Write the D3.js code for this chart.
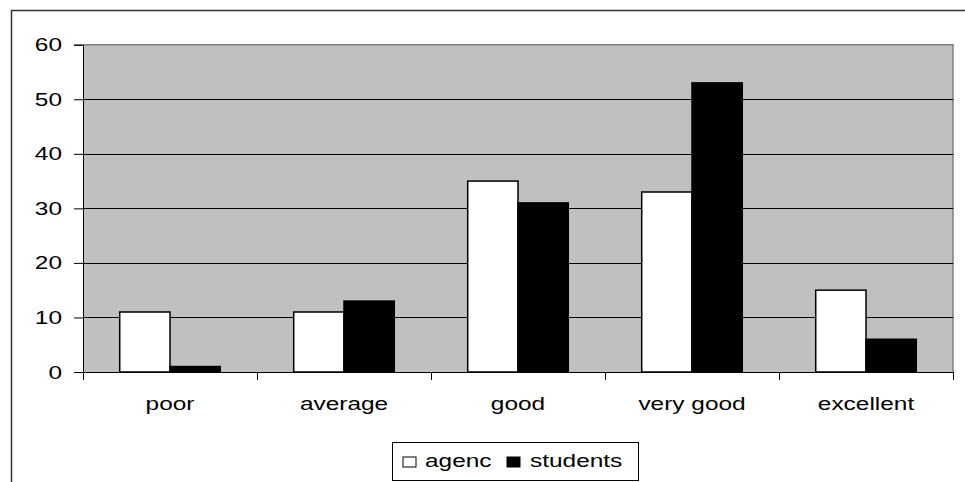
<!DOCTYPE html>
<html>
<head>
<meta charset="utf-8">
<script src="https://cdn.jsdelivr.net/npm/d3@7/dist/d3.min.js"></script>
<style>
  html, body { margin: 0; padding: 0; background: #fff; }
  svg { display: block; }
  text { font-family: "Liberation Sans", Arial, sans-serif; fill: #000; }
</style>
</head>
<body>
<svg id="chart" width="965" height="482"></svg>
<script>
// Ratings by category for the two respondent groups
const categories = ["poor", "average", "good", "very good", "excellent"];
const seriesNames = ["agenc", "students"];
const agencValues = [11, 11, 35, 33, 15];
const studentsValues = [1, 13, 31, 53, 6];
const yTicks = [0, 10, 20, 30, 40, 50, 60];
const seriesColors = ["#ffffff", "#000000"];

const svg = d3.select("#chart");
const W = 965, H = 482;
const plot = { left: 83, top: 44.7, right: 953, bottom: 372 };
const FONT = 18.5, STRETCH = 1.32;

// Text drawn with a horizontally widened face
function label(sel, x, y, anchor, str) {
  return sel.append("text")
    .attr("transform", `translate(${x},${y}) scale(${STRETCH},1)`)
    .attr("text-anchor", anchor)
    .attr("font-size", FONT)
    .text(str);
}

// Outer chart frame
svg.append("path")
  .attr("d", `M11.5,${H} L11.5,10.5 L${W},10.5`)
  .attr("fill", "none").attr("stroke", "#333").attr("stroke-width", 1.5);

const x = d3.scaleBand().domain(categories).range([plot.left, plot.right]);
const xs = d3.scaleBand().domain(seriesNames).range([0, x.bandwidth()]).paddingInner(0).paddingOuter(0.73);
const y = d3.scaleLinear().domain([0, 60]).range([plot.bottom, plot.top]);

// Plot background
svg.append("rect")
  .attr("x", plot.left).attr("y", plot.top)
  .attr("width", plot.right - plot.left).attr("height", plot.bottom - plot.top)
  .attr("fill", "#c0c0c0");
svg.append("path")
  .attr("d", `M${plot.left},${plot.top} L${plot.right},${plot.top} L${plot.right},${plot.bottom}`)
  .attr("fill", "none").attr("stroke", "#808080").attr("stroke-width", 1.5);

// Horizontal gridlines
svg.append("g").selectAll("line").data(yTicks.filter(t => t > 0 && t < 60)).join("line")
  .attr("x1", plot.left).attr("x2", plot.right)
  .attr("y1", d => Math.round(y(d)) + 0.5).attr("y2", d => Math.round(y(d)) + 0.5)
  .attr("stroke", "#000").attr("stroke-width", 1);

// Bars
const rows = categories.map((c, i) => ({ cat: c, vals: [agencValues[i], studentsValues[i]] }));
const groups = svg.append("g").selectAll("g").data(rows).join("g")
  .attr("transform", d => `translate(${x(d.cat)},0)`);
groups.selectAll("rect").data(d => d.vals.map((v, j) => ({ key: seriesNames[j], v, j }))).join("rect")
  .attr("x", d => xs(d.key))
  .attr("width", xs.bandwidth())
  .attr("y", d => y(d.v))
  .attr("height", d => y(0) - y(d.v))
  .attr("fill", d => seriesColors[d.j])
  .attr("stroke", "#000").attr("stroke-width", 1.5);

// Y axis
const yAxis = d3.axisLeft(y).tickValues(yTicks).tickSize(9).tickFormat("");
const gy = svg.append("g").attr("transform", `translate(${plot.left},0)`).call(yAxis);
gy.select(".domain").attr("stroke", "#000").attr("stroke-width", 1);
gy.selectAll(".tick line").attr("stroke", "#000");
const gyl = svg.append("g");
yTicks.forEach(t => label(gyl, 62, y(t) + 6.5, "end", d3.format("d")(t)));

// X axis
const xAxis = d3.axisBottom(d3.scaleLinear().domain([0, categories.length]).range([plot.left, plot.right]))
  .tickValues(d3.range(categories.length + 1)).tickSize(8).tickFormat("");
const gx = svg.append("g").attr("transform", `translate(0,${plot.bottom})`).call(xAxis);
gx.select(".domain").attr("d", `M${plot.left},0.5H${plot.right}`).attr("stroke", "#000");
gx.selectAll(".tick line").attr("stroke", "#000");

const gxl = svg.append("g");
categories.forEach(c => label(gxl, x(c) + x.bandwidth() / 2, 410, "middle", c));

// Legend
const lg = svg.append("g");
lg.append("rect").attr("x", 392.5).attr("y", 442.5).attr("width", 246).attr("height", 38)
  .attr("fill", "#fff").attr("stroke", "#000").attr("stroke-width", 1);
const legendItems = [
  { name: seriesNames[0], color: seriesColors[0], sx: 403, tx: 425 },
  { name: seriesNames[1], color: seriesColors[1], sx: 507, tx: 530 }
];
legendItems.forEach(it => {
  lg.append("rect").attr("x", it.sx).attr("y", 457).attr("width", 13).attr("height", 10)
    .attr("fill", it.color).attr("stroke", "#000").attr("stroke-width", 1);
  label(lg, it.tx, 467, "start", it.name);
});
</script>
</body>
</html>
